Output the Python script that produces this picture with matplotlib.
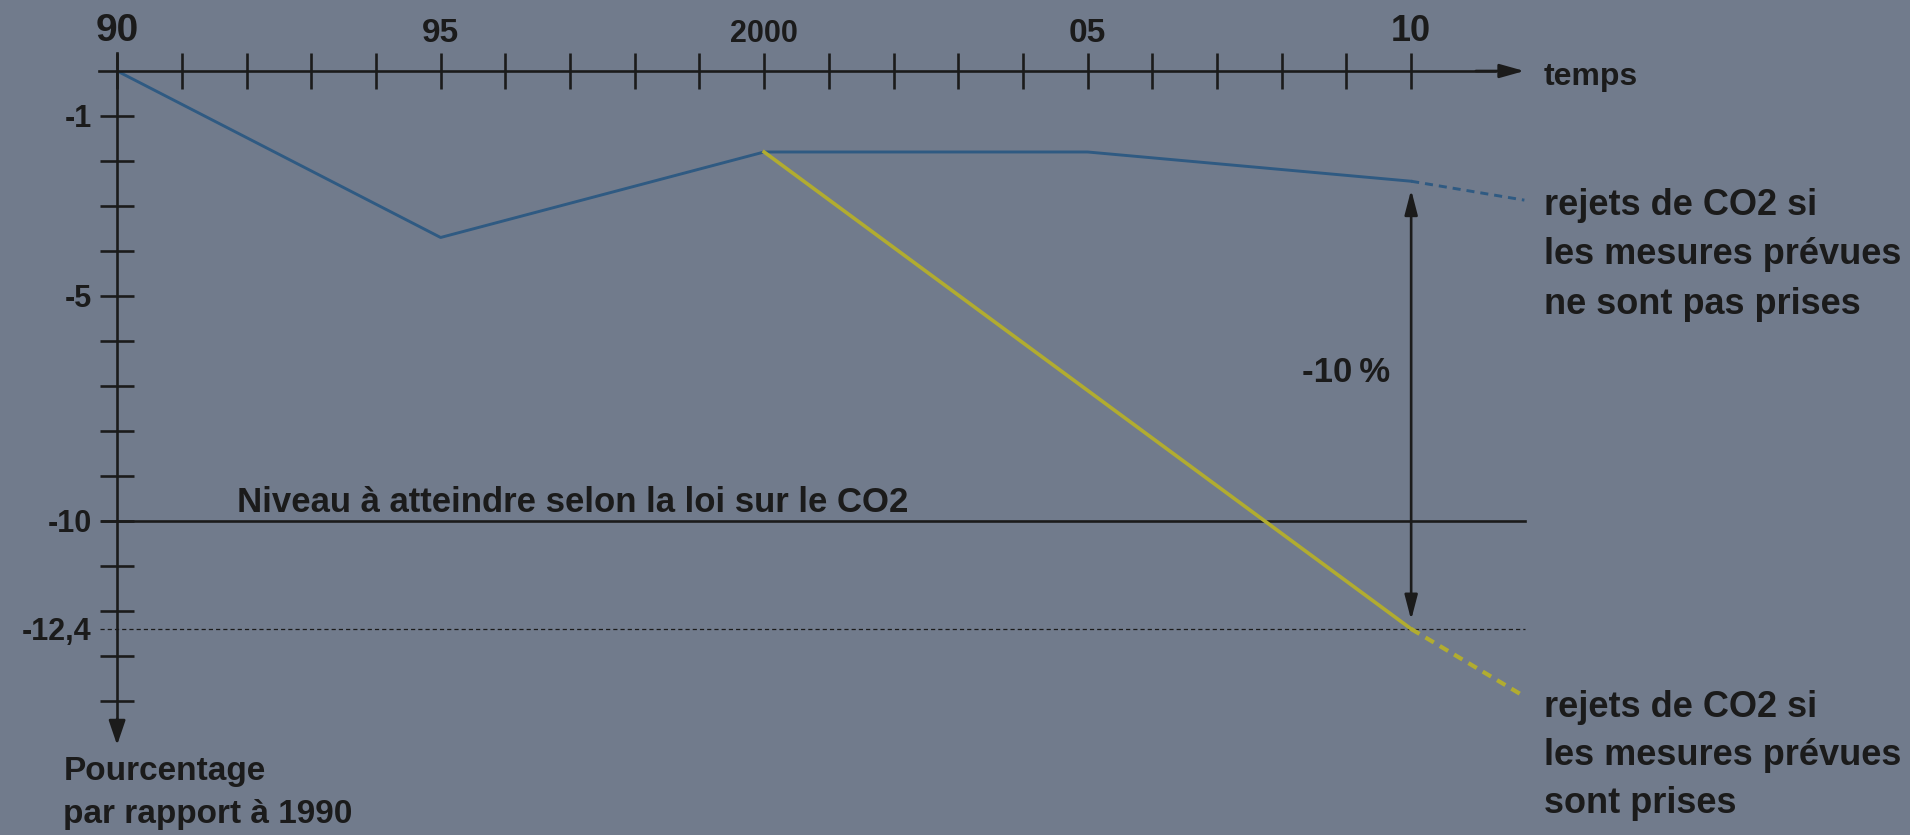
import matplotlib
matplotlib.use("Agg")
import matplotlib.pyplot as plt

# values: change in CO2 emissions, % relative to 1990
years = [1990, 1995, 2000, 2005, 2010]
no_measures = [0.0, -3.7, -1.8, -1.8, -2.45]
no_measures_proj_years = [2010, 2011.75]
no_measures_proj = [-2.45, -2.87]

measures_years = [2000, 2010]
measures = [-1.8, -12.4]
measures_proj_years = [2010, 2011.75]
measures_proj = [-12.4, -13.9]

target = -10.0
reached = -12.4

x_ticks = list(range(1990, 2011))
x_labels = {1990: "90", 1995: "95", 2000: "2000", 2005: "05", 2010: "10"}
x_label_sizes = {1990: 28, 1995: 24, 2000: 22, 2005: 24, 2010: 26}
y_ticks = list(range(-1, -15, -1))
y_labels = {-1: "-1", -5: "-5", -10: "-10"}

BG = "#717b8c"
INK = "#1b1b1b"
BLUE = "#2f5a82"
YELLOW = "#b1ac30"

plt.rcParams["font.family"] = ["Liberation Sans", "DejaVu Sans"]
plt.rcParams["font.weight"] = "bold"
plt.rcParams["lines.scale_dashes"] = False

fig = plt.figure(figsize=(19.1, 8.35), dpi=100, facecolor=BG)
ax = fig.add_axes([0, 0, 1, 1])
ax.set_facecolor(BG)
ax.set_xlim(1988.19, 2017.71)
ax.set_ylim(-16.98, 1.578)

# axes crossing at (1990, 0)
for side in ("right", "bottom"):
    ax.spines[side].set_visible(False)
ax.spines["top"].set_position(("data", 0))
ax.spines["top"].set_bounds(1989.72, 2011.3)
ax.spines["left"].set_position(("data", 1990))
ax.spines["left"].set_bounds(-14.6, 0.4)
for side in ("top", "left"):
    ax.spines[side].set_color(INK)
    ax.spines[side].set_linewidth(1.9)

ax.xaxis.set_ticks_position("top")
ax.yaxis.set_ticks_position("left")
ax.set_xticks(x_ticks)
ax.set_xticklabels([x_labels.get(t, "") for t in x_ticks])
for t, lab in zip(x_ticks, ax.get_xticklabels()):
    lab.set_fontsize(x_label_sizes.get(t, 10))
ax.tick_params(axis="x", direction="inout", length=26, width=1.9, color=INK,
               labelcolor=INK, pad=3)

yt = y_ticks + [reached]
ax.set_yticks(yt)
ax.set_yticklabels([y_labels.get(v, "") for v in y_ticks] + ["-12,4"])
ax.tick_params(axis="y", direction="inout", length=24.5, width=1.9, color=INK,
               labelcolor=INK, labelsize=22, pad=6)
ax.yaxis.get_major_ticks()[-1].tick1line.set_visible(False)

# arrow heads of the axes
arrow = dict(arrowstyle="-|>,head_length=0.5,head_width=0.14", color=INK,
             lw=1.9, mutation_scale=30, shrinkA=0, shrinkB=0)
ax.annotate("", xy=(2011.75, 0), xytext=(2011.0, 0), arrowprops=arrow)
ax.annotate("", xy=(1990, -14.98), xytext=(1990, -14.4),
            arrowprops=dict(arrow, arrowstyle="-|>,head_length=0.5,head_width=0.17"))

# reference levels
ax.plot([1989.77, 2011.76], [target, target], color=INK, lw=1.9)
ax.plot([1989.74, 2011.76], [reached, reached], color=INK, lw=0.9,
        dashes=(3, 2.2))

# emission paths
ax.plot(years, no_measures, color=BLUE, lw=2.1, solid_joinstyle="round")
ax.plot(no_measures_proj_years, no_measures_proj, color=BLUE, lw=2.1,
        dashes=(5.8, 4.3))
ax.plot(measures_years, measures, color=YELLOW, lw=2.6)
ax.plot(measures_proj_years, measures_proj, color=YELLOW, lw=3.0,
        dashes=(7, 5))

# -10 % gap arrow at 2010
ax.annotate("", xy=(2010, -2.64), xytext=(2010, -12.2),
            arrowprops=dict(arrowstyle="<|-|>,head_length=0.5,head_width=0.13",
                            color=INK, lw=1.9, mutation_scale=30,
                            shrinkA=0, shrinkB=0))
ax.text(2009.0, -6.69, "-10\u2009%", fontsize=25, color=INK, ha="center",
        va="center")

ax.text(1991.85, -9.8, "Niveau à atteindre selon la loi sur le CO2",
        fontsize=25, color=INK, ha="left", va="baseline")
ax.text(2012.04, -0.31, "temps", fontsize=23, color=INK, ha="left",
        va="baseline")

top_lines = ["rejets de CO2 si", "les mesures prévues", "ne sont pas prises"]
for i, line in enumerate(top_lines):
    ax.text(2012.06, -3.2 - 1.1 * i, line, fontsize=26, color=INK,
            ha="left", va="baseline")

bottom_lines = ["rejets de CO2 si", "les mesures prévues", "sont prises"]
for i, line in enumerate(bottom_lines):
    ax.text(2012.06, -14.36 - 1.06 * i, line, fontsize=26, color=INK,
            ha="left", va="baseline")

ax.text(1989.17, -15.76, "Pourcentage", fontsize=24, color=INK, ha="left",
        va="baseline")
ax.text(1989.17, -16.71, "par rapport à 1990", fontsize=24, color=INK,
        ha="left", va="baseline")

fig.savefig("out.png", dpi=100, facecolor=BG)
